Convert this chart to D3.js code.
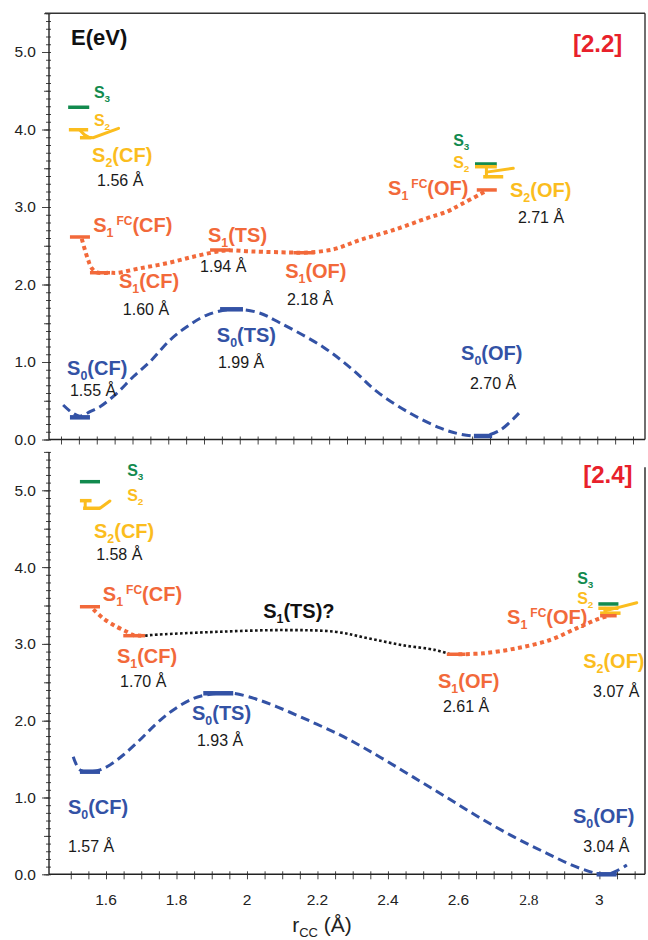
<!DOCTYPE html>
<html><head><meta charset="utf-8">
<script src="https://cdn.jsdelivr.net/npm/d3@7"></script>
<style>body{margin:0;background:#fff}svg{display:block}</style>
</head><body><svg id="c" width="648" height="940"></svg>
<script>
// ---------------- DATA ----------------
const xTickLabels = [1.6, 1.8, 2, 2.2, 2.4, 2.6, 2.8, 3];
const yTickLabels = [0, 1, 2, 3, 4, 5];

// Panel [2.2] (top)
const topS0Curve = [[1.506,0.445],[1.530,0.35],[1.553,0.30],[1.581,0.359],[1.609,0.423],[1.656,0.596],[1.702,0.81],[1.749,1.004],[1.805,1.284],[1.852,1.455],[1.908,1.606],[1.977,1.68],[2.05,1.64],[2.113,1.503],[2.233,1.194],[2.317,0.897],[2.384,0.617],[2.476,0.34],[2.560,0.15],[2.616,0.07],[2.680,0.045],[2.728,0.12],[2.781,0.34]];
const topS1Curve = [[1.558,2.59],[1.567,2.445],[1.576,2.316],[1.586,2.209],[1.60,2.155],[1.637,2.152],[1.656,2.15],[1.721,2.209],[1.796,2.274],[1.870,2.359],[1.935,2.423],[1.96,2.44],[2.04,2.425],[2.141,2.413],[2.18,2.41],[2.262,2.454],[2.336,2.574],[2.43,2.703],[2.523,2.854],[2.579,2.939],[2.616,3.026],[2.672,3.164],[2.69,3.21]];
const topS0Bars = [[1.525,1.581,0.286],[1.945,2.009,1.68],[2.655,2.706,0.045]];
const topS1Bars = [[1.525,1.581,2.613],[1.581,1.637,2.152],[1.917,1.973,2.445],[2.150,2.210,2.41],[2.663,2.719,3.22]];
const topS2Bars = [[1.522,1.576,3.997],[1.553,1.585,3.894],[2.658,2.719,3.52],[2.681,2.737,3.39]];
const topS3Bars = [[1.520,1.579,4.287],[2.658,2.719,3.555]];
const topS2Curves = [
  [[1.553,3.99],[1.566,3.93],[1.578,3.90],[1.59,3.895],[1.661,4.015]],
  [[2.690,3.52],[2.690,3.39]],
  [[2.690,3.45],[2.765,3.50]]
];
const topLabels = [
  ["E(eV)","title",1.528,5.09],["[2.2]","tag",2.932,5.006],
  ["S_{3}","s3small",1.592,4.406],["S_{2}","s2small",1.592,4.045],
  ["S_{2}(CF)","s2",1.587,3.581],["1.56 Å","dist",1.601,3.271],
  ["S_{1}^{FC}(CF)","s1",1.590,2.677],["S_{1}(CF)","s1",1.662,1.955],["1.60 Å","dist",1.673,1.606],
  ["S_{0}(CF)","s0",1.517,0.832],["1.55 Å","dist",1.525,0.561],
  ["S_{1}(TS)","s1",1.911,2.548],["1.94 Å","dist",1.889,2.161],
  ["S_{1}(OF)","s1",2.127,2.084],["2.18 Å","dist",2.132,1.735],
  ["S_{0}(TS)","s0",1.936,1.258],["1.99 Å","dist",1.939,0.923],
  ["S_{0}(OF)","s0",2.619,1.026],["2.70 Å","dist",2.644,0.652],
  ["S_{3}","s3small",2.597,3.787],["S_{2}","s2small",2.597,3.503],
  ["S_{1}^{FC}(OF)","s1",2.415,3.155],["S_{2}(OF)","s2",2.756,3.129],["2.71 Å","dist",2.778,2.794]
];

// Panel [2.4] (bottom)
const botS0Curve = [[1.507,1.531],[1.526,1.36],[1.555,1.336],[1.583,1.36],[1.611,1.423],[1.649,1.553],[1.696,1.749],[1.744,1.966],[1.791,2.14],[1.848,2.29],[1.895,2.345],[1.919,2.357],[1.961,2.357],[2.037,2.265],[2.122,2.11],[2.198,1.955],[2.264,1.815],[2.321,1.675],[2.378,1.525],[2.472,1.265],[2.567,1.0],[2.661,0.735],[2.756,0.49],[2.851,0.273],[2.945,0.078],[3.021,0.0],[3.078,0.121]];
const botS1CurveCF = [[1.564,3.45],[1.592,3.333],[1.630,3.224],[1.659,3.159],[1.677,3.116],[1.70,3.107]];
const botS1CurveTS = [[1.711,3.107],[1.730,3.116],[1.92,3.158],[2.108,3.18],[2.25,3.158],[2.345,3.072],[2.439,2.985],[2.534,2.921],[2.576,2.865]];
const botS1CurveOF = [[2.60,2.865],[2.671,2.878],[2.765,2.943],[2.860,3.051],[2.935,3.203],[3.001,3.333],[3.03,3.367]];
const botS0Bars = [[1.526,1.583,1.336],[1.876,1.961,2.357],[2.992,3.049,0.0]];
const botS1Bars = [[1.526,1.583,3.484],[1.649,1.711,3.107],[2.567,2.62,2.865],[3.002,3.049,3.367]];
const botS2Bars = [[1.526,1.559,4.865],[1.535,1.583,4.766],[2.997,3.054,3.464],[3.002,3.06,3.40]];
const botS3Bars = [[1.526,1.583,5.112],[2.997,3.054,3.52]];
const botS2Curves = [
  [[1.541,4.865],[1.541,4.766]],
  [[1.583,4.766],[1.611,4.861]],
  [[3.016,3.464],[3.016,3.40]],
  [[3.016,3.43],[3.106,3.536]]
];
const botLabels = [
  ["[2.4]","tag",2.954,5.095],
  ["S_{3}","s3small",1.660,5.186],["S_{2}","s2small",1.660,4.861],
  ["S_{2}(CF)","s2",1.566,4.379],["1.58 Å","dist",1.572,4.092],
  ["S_{1}^{FC}(CF)","s1",1.591,3.558],["S_{1}(CF)","s1",1.631,2.75],["1.70 Å","dist",1.640,2.445],
  ["S_{1}(TS)?","ts",2.046,3.337],
  ["S_{0}(TS)","s0",1.844,2.009],["1.93 Å","dist",1.858,1.671],
  ["S_{0}(CF)","s0",1.492,0.785],["1.57 Å","dist",1.492,0.290],
  ["S_{1}(OF)","s1",2.542,2.426],["2.61 Å","dist",2.556,2.115],
  ["S_{1}^{FC}(OF)","s1",2.738,3.259],
  ["S_{3}","s3small",2.937,3.780],["S_{2}","s2small",2.937,3.520],
  ["S_{2}(OF)","s2",2.954,2.686],["3.07 Å","dist",2.982,2.309],
  ["S_{0}(OF)","s0",2.925,0.668],["3.04 Å","dist",2.954,0.290]
];

// ---------------- STYLE / LAYOUT ----------------
const FONT = "'Liberation Sans', Arial, Helvetica, sans-serif";
const COL = {s0:"#3352a5", s1:"#f2693a", s2:"#fbbd1e", s3:"#128a4e", black:"#161616", tag:"#e8212b"};
const LABEL_STYLE = {
  title:{fill:"#111", size:22, weight:"bold"},
  tag:{fill:COL.tag, size:24, weight:"bold"},
  s0:{fill:COL.s0, size:20, weight:"bold"},
  s1:{fill:COL.s1, size:20, weight:"bold"},
  s2:{fill:COL.s2, size:20, weight:"bold"},
  s2small:{fill:COL.s2, size:16, weight:"bold"},
  s3small:{fill:COL.s3, size:16, weight:"bold"},
  ts:{fill:"#111", size:20, weight:"bold"},
  dist:{fill:"#1a1a1a", size:16, weight:"normal"}
};
const L = 49, R = 645;

const svg = d3.select("#c");

// scales
const xTop = d3.scaleLinear().domain([1.5, 2.7]).range([61, 490]);
xTop.domain([xTop.invert(L), xTop.invert(R)]).range([L, R]);
const yTop = d3.scaleLinear().domain([0, 5]).range([439.5, 52]);
const xBot = d3.scaleLinear().domain([1.6, 3]).range([106, 599.4]);
xBot.domain([xBot.invert(L), xBot.invert(R)]).range([L, R]);
const yBot = d3.scaleLinear().domain([0, 5]).range([874.3, 490.3]);

function rich(textSel, str, size) {
  const re = /(_\{[^}]*\}|\^\{[^}]*\}|[^_^]+)/g;
  let m, shift = 0;
  while ((m = re.exec(str)) !== null) {
    const tok = m[0];
    if (tok.startsWith("_{")) {
      const d = size * 0.26;
      textSel.append("tspan").attr("font-size", size * 0.62).attr("dy", d - shift).text(tok.slice(2, -1));
      shift = d;
    } else if (tok.startsWith("^{")) {
      const d = -size * 0.36;
      textSel.append("tspan").attr("font-size", size * 0.6).attr("dx", 3).attr("dy", d - shift).text(tok.slice(2, -1));
      shift = d;
    } else {
      textSel.append("tspan").attr("dy", -shift).text(tok);
      shift = 0;
    }
  }
}

function drawPanel(xs, ys, yTopVal, p) {
  const g = svg.append("g");
  // y axis ticks
  const minor = d3.range(0, 56).map(i => i / 10);
  const mid = d3.range(0, 12).map(i => i / 2);
  g.append("g").attr("transform", `translate(${L},0)`)
    .call(d3.axisLeft(ys).tickValues(minor).tickSize(3).tickFormat(""));
  g.append("g").attr("transform", `translate(${L},0)`)
    .call(d3.axisRight(ys).tickValues(minor).tickSize(2).tickFormat(""));
  g.append("g").attr("transform", `translate(${L},0)`)
    .call(d3.axisLeft(ys).tickValues(mid).tickSize(5).tickFormat(""));
  const ya = g.append("g").attr("transform", `translate(${L},0)`)
    .call(d3.axisLeft(ys).tickValues(yTickLabels).tickSize(7).tickPadding(6).tickFormat(d3.format(".1f")));
  ya.selectAll("text").attr("font-family", FONT).attr("font-size", 15.5).attr("fill", "#222");
  // x axis ticks
  const xt = d3.range(30, 63).map(i => i / 20);
  g.append("g").attr("transform", `translate(0,${ys(0)})`)
    .call(d3.axisBottom(xs).tickValues(xt).tickSize(5).tickFormat(""));
  g.append("g").attr("transform", `translate(0,${ys(0)})`)
    .call(d3.axisTop(xs).tickValues(xt).tickSize(3).tickFormat(""));
  g.selectAll(".domain").remove();
  g.selectAll(".tick line").attr("stroke", "#444").attr("stroke-width", 1);
  // axis lines
  g.append("line").attr("x1", L).attr("x2", L).attr("y1", ys(0)).attr("y2", ys(yTopVal))
    .attr("stroke", "#222").attr("stroke-width", 1.4);
  g.append("line").attr("x1", L).attr("x2", R).attr("y1", ys(0)).attr("y2", ys(0))
    .attr("stroke", "#222").attr("stroke-width", 1.4);

  const line = d3.line().x(d => xs(d[0])).y(d => ys(d[1])).curve(d3.curveCatmullRom.alpha(0.5));
  const straight = d3.line().x(d => xs(d[0])).y(d => ys(d[1]));

  // curves
  p.s0Curves.forEach(c => g.append("path").attr("d", line(c)).attr("fill", "none")
    .attr("stroke", COL.s0).attr("stroke-width", 3).attr("stroke-dasharray", "9,5"));
  p.s1Curves.forEach(c => g.append("path").attr("d", line(c)).attr("fill", "none")
    .attr("stroke", COL.s1).attr("stroke-width", 4).attr("stroke-dasharray", "4,3.5"));
  (p.tsCurves || []).forEach(c => g.append("path").attr("d", line(c)).attr("fill", "none")
    .attr("stroke", COL.black).attr("stroke-width", 2.6).attr("stroke-dasharray", "2.6,2.4"));
  p.s2Curves.forEach(c => g.append("path").attr("d", straight(c)).attr("fill", "none")
    .attr("stroke", COL.s2).attr("stroke-width", 3).attr("stroke-linecap", "round"));

  // bars
  const bars = (arr, col, w) => g.selectAll(null).data(arr).enter().append("line")
    .attr("x1", d => xs(d[0])).attr("x2", d => xs(d[1]))
    .attr("y1", d => ys(d[2])).attr("y2", d => ys(d[2]))
    .attr("stroke", col).attr("stroke-width", w);
  bars(p.s3Bars, COL.s3, 3.5);
  bars(p.s2Bars, COL.s2, 3.5);
  bars(p.s1Bars, COL.s1, 3.5);
  bars(p.s0Bars, COL.s0, 4.5);

  // labels
  p.labels.forEach(([t, role, vx, vy]) => {
    const st = LABEL_STYLE[role];
    const txt = g.append("text").attr("x", xs(vx)).attr("y", ys(vy))
      .attr("font-family", FONT).attr("font-size", st.size).attr("font-weight", st.weight)
      .attr("fill", st.fill);
    rich(txt, t, st.size);
  });
  return g;
}

drawPanel(xTop, yTop, 5.5, {
  s0Curves:[topS0Curve], s1Curves:[topS1Curve], s2Curves:topS2Curves,
  s0Bars:topS0Bars, s1Bars:topS1Bars, s2Bars:topS2Bars, s3Bars:topS3Bars, labels:topLabels
});
drawPanel(xBot, yBot, 5.5, {
  s0Curves:[botS0Curve], s1Curves:[botS1CurveCF, botS1CurveOF], tsCurves:[botS1CurveTS], s2Curves:botS2Curves,
  s0Bars:botS0Bars, s1Bars:botS1Bars, s2Bars:botS2Bars, s3Bars:botS3Bars, labels:botLabels
});

// frame of top panel and right border of bottom panel
svg.append("line").attr("x1", 45).attr("x2", R).attr("y1", yTop(5.5)).attr("y2", yTop(5.5)).attr("stroke", "#333").attr("stroke-width", 1.6);
svg.append("line").attr("x1", R).attr("x2", R).attr("y1", yTop(5.5)).attr("y2", yTop(0)).attr("stroke", "#333").attr("stroke-width", 1.4);
svg.append("line").attr("x1", R).attr("x2", R).attr("y1", yBot(5.3)).attr("y2", yBot(0)).attr("stroke", "#222").attr("stroke-width", 1.4);

// x tick labels (bottom)
svg.selectAll(null).data(xTickLabels).enter().append("text")
  .attr("x", d => xBot(d)).attr("y", 905).attr("text-anchor", "middle")
  .attr("font-family", d => d === 2.8 ? "'Liberation Serif', 'Times New Roman', serif" : FONT)
  .attr("font-size", 15.5).attr("fill", "#222").text(d => String(d));

// x axis title
const xt = svg.append("text").attr("x", 322).attr("y", 932).attr("text-anchor", "middle")
  .attr("font-family", FONT).attr("font-size", 21).attr("fill", "#222");
rich(xt, "r_{CC} (Å)", 21);
</script></body></html>
